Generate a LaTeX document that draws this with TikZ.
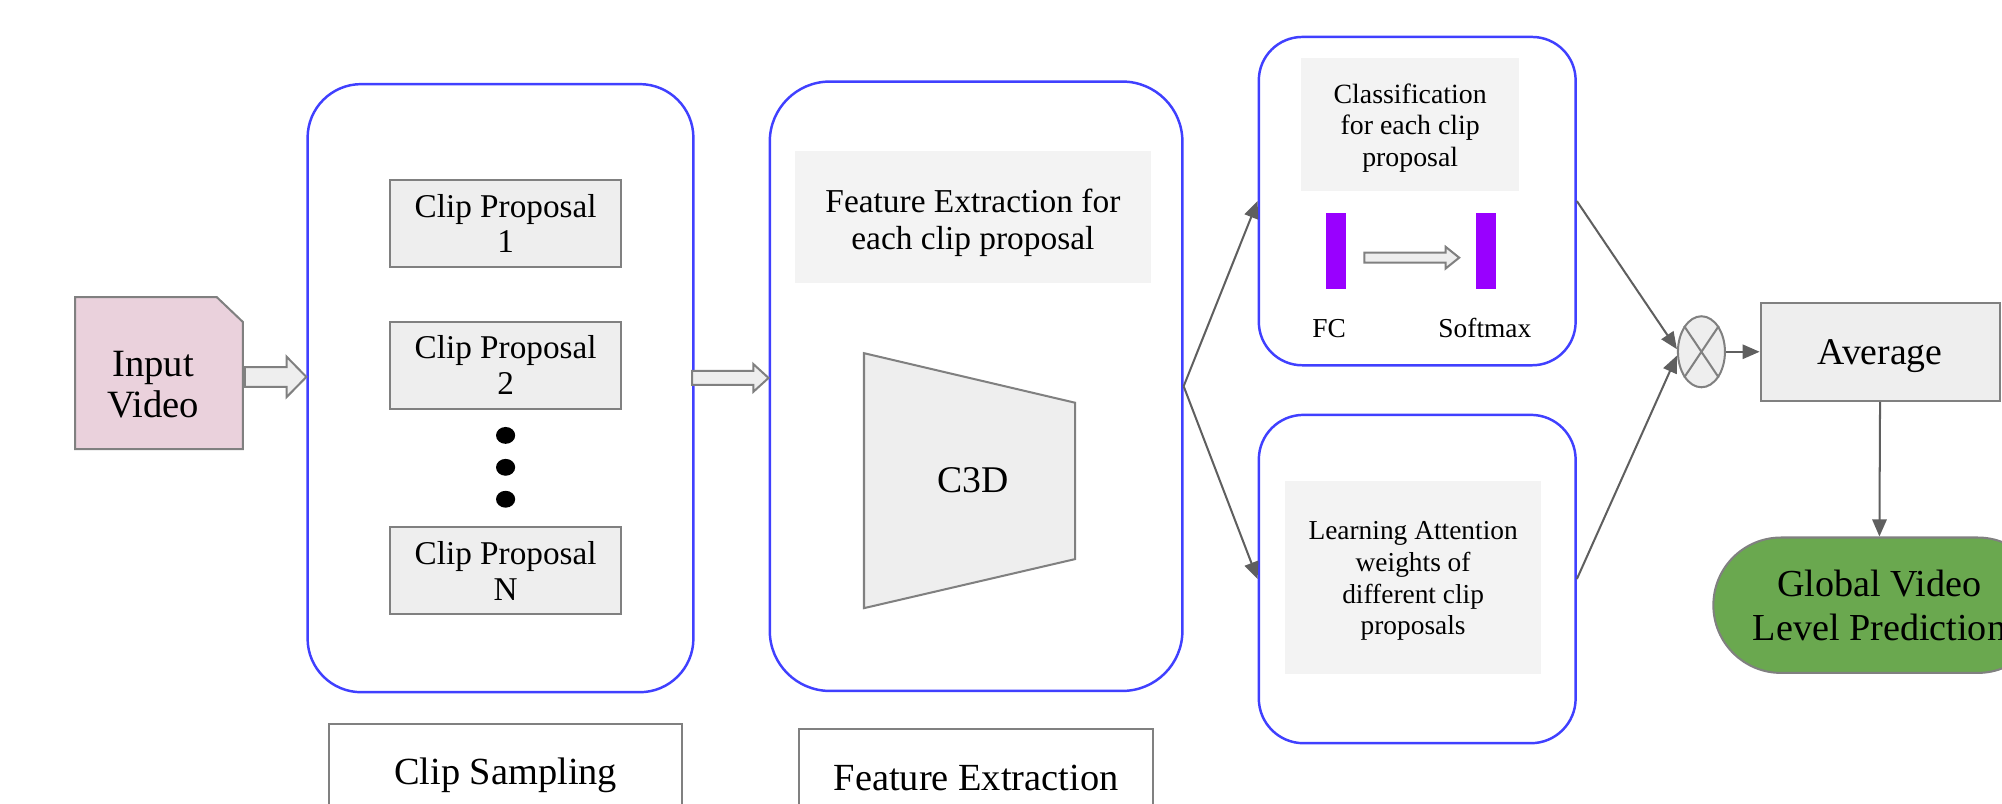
\documentclass[tikz,border=0pt]{standalone}
\usepackage{fontspec}
\setmainfont{Liberation Serif}
\usetikzlibrary{arrows.meta,shapes.geometric,calc}

\definecolor{stageblue}{RGB}{64,64,255}
\definecolor{edgegray}{RGB}{128,128,128}
\definecolor{boxfill}{RGB}{238,238,238}
\definecolor{notefill}{RGB}{243,243,243}
\definecolor{layerpurple}{RGB}{153,0,255}
\definecolor{videopink}{RGB}{234,209,220}
\definecolor{resultgreen}{RGB}{106,168,79}
\definecolor{linkgray}{RGB}{95,95,95}

\newcommand\fsz[2]{\fontsize{#1}{#2}\selectfont}
% hollow block arrow: start point, tip point, shaft half-width, head half-width, head length
\newcommand\blockarr[5]{%
  \draw[blockarrow] let \p1=(#1), \p2=(#2) in
    (\x1,\y1+#3) -- (\x2-#5,\y1+#3) -- (\x2-#5,\y1+#4) -- (\x2,\y1)
    -- (\x2-#5,\y1-#4) -- (\x2-#5,\y1-#3) -- (\x1,\y1-#3) -- cycle;}

\begin{document}
\begin{tikzpicture}[x=0.01cm,y=-0.01cm,
  stage/.style={draw=stageblue, line width=0.55pt, fill=white, inner sep=0pt},
  proposal/.style={draw=edgegray, line width=0.45pt, fill=boxfill, align=center,
    minimum width=1.805cm, minimum height=0.68cm, inner sep=0pt,
    font=\fsz{7.4pt}{7.9pt}},
  note/.style={fill=notefill, inner sep=0pt},
  notetext/.style={align=center, inner sep=0pt},
  plainbox/.style={draw=edgegray, line width=0.45pt, fill=boxfill, inner sep=0pt},
  layer/.style={fill=layerpurple, minimum width=0.155cm, minimum height=0.595cm, inner sep=0pt},
  blockarrow/.style={draw=edgegray, line width=0.45pt, fill=boxfill, line join=miter},
  link/.style={draw=linkgray, line width=0.45pt, -{Triangle[length=3.8pt,width=3.2pt]}},
  labelbox/.style={draw=edgegray, line width=0.5pt, fill=white, inner sep=0pt,
    font=\fsz{8.55pt}{9.5pt}}
]
\useasboundingbox (0,0) rectangle (1568,629);
\clip (0,0) rectangle (1568,629);

% ---------- input video (page with a folded corner) ----------
\node[minimum width=1.30cm, minimum height=1.176cm, inner sep=0pt] (inp) at (124.5,292.2) {};
\filldraw[draw=edgegray, line width=0.45pt, fill=videopink]
  (inp.south west) -- (inp.north west) -- ([xshift=-0.205cm]inp.north east)
  -- ([yshift=-0.195cm]inp.north east) -- (inp.south east) -- cycle;
\node[align=center, inner sep=0pt, font=\fsz{8.6pt}{9.1pt}] (inptxt) at (120,301) {Input\\Video};

% ---------- clip sampling stage ----------
\node[stage, rounded corners=0.42cm, minimum width=3.02cm, minimum height=4.76cm] (clip) at (392,304) {};
\node[proposal] (p1) at (396,175) {Clip Proposal\\1};
\node[proposal] (p2) at (396,286) {Clip Proposal\\2};
\node[proposal] (pn) at (396,447) {Clip Proposal\\N};
\foreach \yy in {341,366,391}
  \fill (396,\yy) ellipse [x radius=0.075cm, y radius=0.066cm];

% ---------- feature extraction stage ----------
\node[stage, rounded corners=0.47cm, minimum width=3.23cm, minimum height=4.77cm] (feat) at (764.5,302.5) {};
\node[note, minimum width=2.785cm, minimum height=1.034cm] (fxbox) at (762,170) {};
\node[notetext, font=\fsz{7.44pt}{8.2pt}] (fxtxt) at ($(fxbox.center)+(0,4.5)$)
  {Feature Extraction for\\each clip proposal};
\filldraw[draw=edgegray, line width=0.45pt, fill=boxfill]
  (676.7,276.6) -- (842,315.4) -- (842,437.9) -- (676.7,476.3) -- cycle;
\node[anchor=base, inner sep=0pt, font=\fsz{8.4pt}{9pt}] (c3d) at (762,386) {C3D};

% ---------- classification branch ----------
\node[stage, rounded corners=0.34cm, minimum width=2.48cm, minimum height=2.57cm] (cls) at (1110,157.5) {};
\node[note, minimum width=1.71cm, minimum height=1.04cm] (clsbox) at (1104.5,97.6) {};
\node[notetext, font=\fsz{6.2pt}{7pt}] (clstxt) at ($(clsbox.center)+(0,2.5)$)
  {Classification\\for each clip\\proposal};
\node[layer] (fc) at (1046.2,196.8) {};
\node[layer] (sm) at (1163.8,196.8) {};
\node[anchor=base, inner sep=0pt, font=\fsz{6.1pt}{7pt}] (fclab) at (1041,264) {FC};
\node[anchor=base, inner sep=0pt, font=\fsz{6.1pt}{7pt}] (smlab) at (1163,264) {Softmax};
\coordinate (a3s) at ($(fc.east)+(14,5)$);
\coordinate (a3t) at ($(sm.west |- a3s)+(-12.5,0)$);
\blockarr{a3s}{a3t}{1.1pt}{2.4pt}{3pt}

% ---------- attention branch ----------
\node[stage, rounded corners=0.35cm, minimum width=2.48cm, minimum height=2.57cm] (att) at (1110,453.5) {};
\node[note, minimum width=2.005cm, minimum height=1.51cm] (attbox) at (1106.8,452.5) {};
\node[notetext, font=\fsz{6.1pt}{7.1pt}] (atttxt) at ($(attbox.center)+(0,2.5)$)
  {Learning Attention\\weights of\\different clip\\proposals};

% ---------- fusion and output ----------
\node[draw=edgegray, line width=0.45pt, fill=boxfill, ellipse, minimum width=0.368cm,
  minimum height=0.556cm, inner sep=0pt] (mul) at (1332.6,275.5) {};
\draw[draw=edgegray, line width=0.45pt] (mul.north west) -- (mul.south east)
  (mul.north east) -- (mul.south west);
\node[plainbox, minimum width=1.87cm, minimum height=0.77cm, text depth=0pt,
  font=\fsz{8.4pt}{9pt}] (avg) at (1472.5,275.5) {Average};
\node[draw=edgegray, line width=0.45pt, fill=resultgreen, rounded corners=0.53cm,
  minimum width=2.6cm, minimum height=1.06cm, inner sep=0pt, align=center,
  font=\fsz{8.5pt}{9.7pt}] (glob) at (1472,474) {Global Video\\Level Prediction};

% ---------- bottom captions ----------
\node[labelbox, minimum width=2.762cm, minimum height=0.8cm] (caps) at (396,607) {Clip Sampling};
\node[labelbox, minimum width=2.77cm, minimum height=0.76cm] (capf) at (764.5,609) {Feature Extraction};

% ---------- connectors ----------
\coordinate (a1s) at ($(inp.east)+(1.5,3)$);
\coordinate (a1t) at (clip.west |- a1s);
\blockarr{a1s}{a1t}{2.2pt}{4.5pt}{4.4pt}
\coordinate (a2s) at ($(clip.east)+(-2,-8)$);
\coordinate (a2t) at (feat.west |- a2s);
\blockarr{a2s}{a2t}{1.55pt}{3.1pt}{3.4pt}

\draw[link] (feat.east) -- (cls.west);
\draw[link] (feat.east) -- (att.west);
\draw[link] (cls.east) -- ($(mul.west)+(0,-2)$);
\draw[link] (att.east) -- ($(mul.west)+(0,3)$);
\draw[link] (mul.east) -- (avg.west);
\draw[link] (avg.south) -- (glob.north);
\end{tikzpicture}
\end{document}
